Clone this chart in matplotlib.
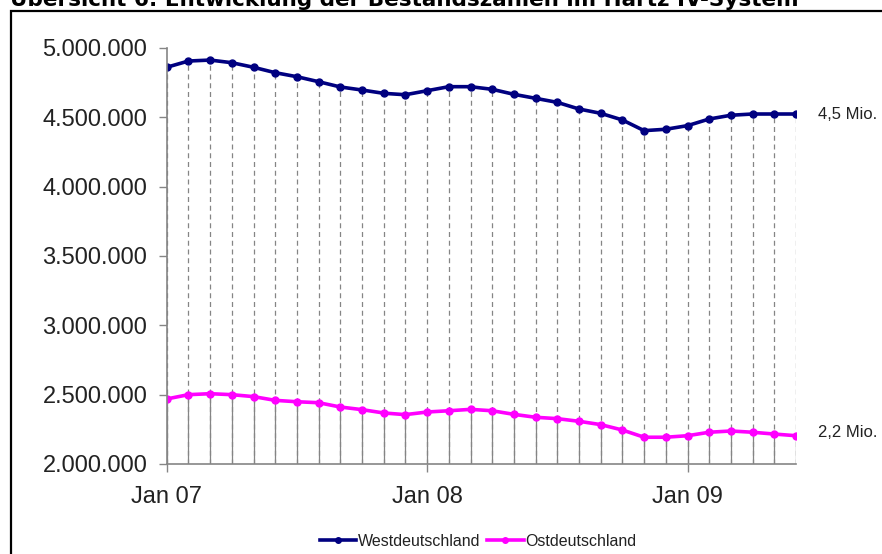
import numpy as np
import matplotlib
matplotlib.use('Agg')
import matplotlib.pyplot as plt
from matplotlib.lines import Line2D
from matplotlib.patches import Rectangle

plt.rcParams['font.family'] = ['Liberation Sans', 'DejaVu Sans']

# Bestandszahlen Jan 2007 - Jun 2009 (monthly)
months = np.arange(30)
tick_pos = [0, 12, 24]
tick_labels = ["Jan 07", "Jan 08", "Jan 09"]

west = [4861000, 4906000, 4913000, 4894000, 4861000, 4822000, 4793000, 4757000,
        4719000, 4697000, 4673000, 4663000, 4692000, 4721000, 4721000, 4702000,
        4666000, 4637000, 4608000, 4560000, 4529000, 4481000, 4404000, 4414000,
        4440000, 4488000, 4515000, 4524000, 4524000, 4524000]
east = [2469000, 2500000, 2507000, 2500000, 2486000, 2459000, 2449000, 2442000,
        2411000, 2392000, 2368000, 2356000, 2375000, 2384000, 2394000, 2384000,
        2358000, 2337000, 2327000, 2308000, 2284000, 2245000, 2193000, 2193000,
        2204000, 2229000, 2238000, 2229000, 2216000, 2204000]
yticks = np.arange(2000000, 5000001, 500000)

W, H = 882, 554
fig = plt.figure(figsize=(W / 100, H / 100), dpi=100)

# frame around the chart (runs off right and bottom)
fig.patches.append(Rectangle((11 / W, -0.05), 1.0, 1 - 11 / H + 0.05,
                             transform=fig.transFigure, fill=False,
                             edgecolor='black', linewidth=1.6))
# title is cut off at the top edge, as in the source scan
fig.text(10 / W, 1 - 6 / H, "Übersicht 6: Entwicklung der Bestandszahlen im Hartz IV-System",
         family='DejaVu Sans', fontweight='bold', fontsize=15.5, va='baseline', ha='left')

ax = fig.add_axes([166.7 / W, (H - 464) / H, (796 - 166.7) / W, (464 - 48) / H])

grey = '#858585'
ax.vlines(months, yticks[0], west, colors=grey, linewidth=0.9, linestyles=(0, (4, 3)))
ax.vlines(months, yticks[0], east, colors=grey, linewidth=0.9)

ax.plot(months, west, color='#000080', linewidth=2.6, marker='o', markersize=5)
ax.plot(months, east, color='#FF00FF', linewidth=2.6, marker='o', markersize=5)

ax.set_xlim(0, 29)
ax.set_ylim(yticks[0], yticks[-1])
ax.set_yticks(yticks)
ax.set_yticklabels([f"{v:,.0f}".replace(",", ".") for v in yticks])
ax.set_xticks(tick_pos)
ax.set_xticklabels(tick_labels)
ax.tick_params(axis='both', colors=grey, labelcolor='#222222', labelsize=17,
               length=6, width=1, direction='out')
ax.tick_params(axis='x', pad=10)
ax.tick_params(axis='y', pad=8)
for s in ['top', 'right']:
    ax.spines[s].set_visible(False)
for s in ['left', 'bottom']:
    ax.spines[s].set_color(grey)
    ax.spines[s].set_linewidth(1.2)

ax.annotate("4,5 Mio.", xy=(29, west[-1]), xytext=(16, 0), textcoords='offset points',
            va='center', ha='left', fontsize=12, color='#222222', annotation_clip=False)
ax.annotate("2,2 Mio.", xy=(29, east[-1]), xytext=(16, 2), textcoords='offset points',
            va='center', ha='left', fontsize=12, color='#222222', annotation_clip=False)

handles = [Line2D([], [], color='#000080', linewidth=2.6, marker='o', markersize=4),
           Line2D([], [], color='#FF00FF', linewidth=2.6, marker='o', markersize=4)]
fig.legend(handles, ["Westdeutschland", "Ostdeutschland"], loc='center',
           bbox_to_anchor=(478 / W, 1 - 541 / H), ncol=2, frameon=False,
           fontsize=11.5, handlelength=2.3, handletextpad=0.1, columnspacing=0.4,
           labelcolor='#222222')

fig.savefig('out.png', dpi=100)
